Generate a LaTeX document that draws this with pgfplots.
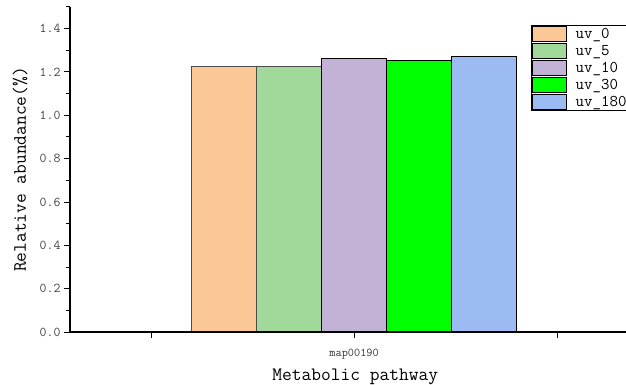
\documentclass[border=0pt]{standalone}
\usepackage{fontspec}
\renewcommand{\familydefault}{\ttdefault}
\usepackage{pgfplots}
\pgfplotsset{compat=1.18}
\usetikzlibrary{calc}
\definecolor{c0}{HTML}{FCC797}
\definecolor{c5}{HTML}{A1D99B}
\definecolor{c10}{HTML}{C2B2D6}
\definecolor{c30}{HTML}{00FF00}
\definecolor{c180}{HTML}{9BBBF2}
\begin{document}
\ttfamily
\begin{tikzpicture}
\begin{axis}[
  scale only axis,
  width=556bp, height=325bp,
  xmin=-0.4, xmax=2.34,
  ymin=0, ymax=1.5,
  axis lines=left,
  axis on top,
  axis line style={-, line width=1.1pt},
  ybar=0pt,
  bar width=0.32,
  xtick={0,1,2},
  xticklabels={,map00190,},
  x tick label style={font=\ttfamily\fontsize{12}{13}\selectfont, text=black!80, yshift=-8bp},
  ytick={0,0.2,0.4,0.6,0.8,1.0,1.2,1.4},
  minor ytick={0.1,0.3,0.5,0.7,0.9,1.1,1.3,1.5},
  yticklabel style={/pgf/number format/fixed, /pgf/number format/fixed zerofill, /pgf/number format/precision=1, font=\ttfamily\fontsize{13.5}{14}\selectfont, text=black!75},
  /pgf/number format/assume math mode=true,
  tick align=outside,
  major tick length=6bp,
  minor tick length=3.5bp,
  tick style={line width=1pt, black},
  ylabel={Relative abundance(\%)},
  xlabel={Metabolic pathway},
  label style={font=\ttfamily\fontsize{19}{22}\selectfont},
  ylabel style={at={(rel axis cs:0,0.5)}, anchor=center, yshift=50bp},
  xlabel style={at={(rel axis cs:0.513,0)}, anchor=center, yshift=-45bp},
  legend style={at={(0.829,0.945)}, anchor=north west, draw=black, line width=0.6pt,
    font=\ttfamily\fontsize{16.5}{17}\selectfont, row sep=1.6bp, inner sep=1bp,
    nodes={inner sep=1.6bp}},
  legend cell align=left,
  legend image code/.code={\draw[#1, line width=0.9pt, draw=black] (0bp,-7bp) rectangle (34bp,7.5bp);},
]
\addplot[fill=c0, draw=black!70, line width=0.6pt] coordinates {(1,1.228)};
\addplot[fill=c5, draw=black!70, line width=0.6pt] coordinates {(1,1.227)};
\addplot[fill=c10, draw=black, line width=0.6pt] coordinates {(1,1.262)};
\addplot[fill=c30, draw=black, line width=0.6pt] coordinates {(1,1.256)};
\addplot[fill=c180, draw=black, line width=0.6pt] coordinates {(1,1.273)};
\legend{\hspace{7bp}uv\_0,\hspace{7bp}uv\_5,\hspace{7bp}uv\_10,\hspace{7bp}uv\_30,\hspace{7bp}uv\_180}
\coordinate (BL) at (rel axis cs:0,0);
\coordinate (TR) at (rel axis cs:1,1);
\end{axis}
\pgfresetboundingbox
\useasboundingbox ($(BL)+(-70bp,-53bp)$) rectangle ($(TR)+(0,7bp)$);
\end{tikzpicture}
\end{document}
